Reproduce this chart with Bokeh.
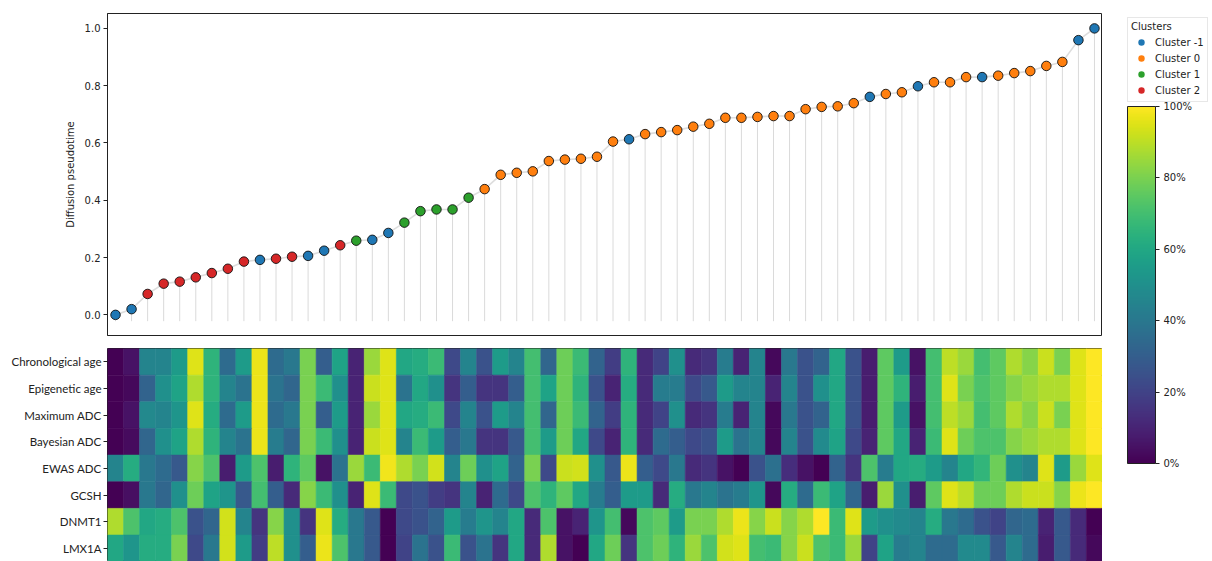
from bokeh.plotting import figure
from bokeh.models import (ColumnDataSource, Range1d, FixedTicker, Legend, LegendItem,
                          ColorBar, LinearColorMapper, NumeralTickFormatter, PrintfTickFormatter,
                          CategoricalColorMapper)
from bokeh.layouts import row, column
from bokeh.palettes import Viridis256
from bokeh.embed import file_html
from bokeh.resources import INLINE

# ---------------- data ----------------
pseudotime = [0.000, 0.020, 0.073, 0.109, 0.116, 0.131, 0.146, 0.161, 0.186, 0.192,
              0.196, 0.203, 0.206, 0.224, 0.243, 0.259, 0.262, 0.286, 0.322, 0.362,
              0.368, 0.368, 0.409, 0.439, 0.489, 0.496, 0.501, 0.537, 0.542, 0.545,
              0.552, 0.605, 0.613, 0.631, 0.638, 0.645, 0.657, 0.667, 0.688, 0.688,
              0.691, 0.694, 0.694, 0.718, 0.726, 0.728, 0.739, 0.761, 0.771, 0.777,
              0.798, 0.812, 0.812, 0.830, 0.830, 0.835, 0.844, 0.851, 0.869, 0.883,
              0.959, 1.000]

clusters = [-1, -1, 2, 2, 2, 2, 2, 2, 2, -1, 2, 2, -1, -1, 2, 1, -1, -1, 1, 1, 1, 1, 1,
            0, 0, 0, 0, 0, 0, 0, 0, 0, -1, 0, 0, 0, 0, 0, 0, 0, 0, 0, 0, 0, 0, 0, 0,
            -1, 0, 0, -1, 0, 0, 0, -1, 0, 0, 0, 0, 0, -1, -1]

cluster_ids = [-1, 0, 1, 2]
cluster_names = ["Cluster -1", "Cluster 0", "Cluster 1", "Cluster 2"]
cluster_colors = ["#1f77b4", "#ff7f0e", "#2ca02c", "#d62728"]

row_labels = ["Chronological age", "Epigenetic age", "Maximum ADC", "Bayesian ADC",
              "EWAS ADC", "GCSH", "DNMT1", "LMX1A"]

chronological_age = [0.00, 0.05, 0.45, 0.45, 0.55, 0.95, 0.65, 0.35, 0.55, 0.97,
                     0.35, 0.40, 0.80, 0.30, 0.58, 0.10, 0.85, 0.95, 0.60, 0.62,
                     0.68, 0.22, 0.45, 0.25, 0.55, 0.45, 0.70, 0.33, 0.78, 0.68,
                     0.32, 0.18, 0.65, 0.12, 0.20, 0.50, 0.12, 0.15, 0.42, 0.10,
                     0.45, 0.02, 0.40, 0.25, 0.32, 0.60, 0.25, 0.08, 0.75, 0.55,
                     0.05, 0.70, 0.90, 0.85, 0.70, 0.75, 0.88, 0.82, 0.92, 0.80,
                     0.95, 1.00]
epigenetic_age = [0.00, 0.02, 0.32, 0.50, 0.58, 0.88, 0.65, 0.45, 0.38, 0.97,
                  0.38, 0.33, 0.80, 0.68, 0.50, 0.10, 0.92, 0.95, 0.38, 0.60,
                  0.50, 0.15, 0.30, 0.15, 0.15, 0.30, 0.70, 0.58, 0.78, 0.65,
                  0.25, 0.10, 0.62, 0.12, 0.42, 0.42, 0.22, 0.28, 0.55, 0.45,
                  0.45, 0.10, 0.45, 0.25, 0.50, 0.60, 0.25, 0.08, 0.75, 0.65,
                  0.08, 0.70, 0.95, 0.80, 0.72, 0.75, 0.82, 0.85, 0.88, 0.88,
                  0.95, 1.00]
maximum_adc = [0.00, 0.05, 0.47, 0.45, 0.52, 0.95, 0.62, 0.35, 0.55, 0.97,
               0.35, 0.40, 0.80, 0.30, 0.55, 0.10, 0.85, 0.95, 0.60, 0.62,
               0.68, 0.22, 0.45, 0.25, 0.55, 0.45, 0.70, 0.33, 0.78, 0.68,
               0.32, 0.18, 0.65, 0.12, 0.20, 0.50, 0.12, 0.15, 0.42, 0.10,
               0.45, 0.02, 0.40, 0.25, 0.32, 0.60, 0.25, 0.08, 0.75, 0.55,
               0.05, 0.70, 0.90, 0.85, 0.70, 0.75, 0.88, 0.82, 0.92, 0.80,
               0.95, 1.00]
bayesian_adc = [0.00, 0.03, 0.33, 0.50, 0.58, 0.88, 0.65, 0.45, 0.38, 0.97,
                0.42, 0.33, 0.80, 0.68, 0.50, 0.10, 0.92, 0.95, 0.45, 0.68,
                0.55, 0.30, 0.40, 0.15, 0.15, 0.28, 0.70, 0.55, 0.78, 0.60,
                0.22, 0.10, 0.65, 0.12, 0.35, 0.30, 0.22, 0.25, 0.55, 0.38,
                0.45, 0.02, 0.45, 0.25, 0.48, 0.58, 0.22, 0.10, 0.75, 0.60,
                0.10, 0.68, 0.95, 0.78, 0.72, 0.72, 0.82, 0.85, 0.88, 0.88,
                0.95, 1.00]
ewas_adc = [0.45, 0.62, 0.40, 0.35, 0.28, 0.82, 0.72, 0.08, 0.55, 0.72,
            0.08, 0.65, 0.75, 0.05, 0.38, 0.85, 0.68, 0.98, 0.88, 0.80,
            0.93, 0.45, 0.78, 0.50, 0.58, 0.32, 0.80, 0.22, 0.92, 0.93,
            0.50, 0.28, 0.97, 0.30, 0.22, 0.40, 0.12, 0.15, 0.05, 0.00,
            0.25, 0.37, 0.13, 0.05, 0.00, 0.32, 0.15, 0.72, 0.42, 0.60,
            0.62, 0.55, 0.45, 0.60, 0.66, 0.78, 0.50, 0.45, 0.95, 0.55,
            0.85, 0.95]
gcsh = [0.00, 0.04, 0.40, 0.33, 0.50, 0.78, 0.58, 0.52, 0.28, 0.70,
        0.30, 0.12, 0.82, 0.68, 0.50, 0.10, 0.95, 0.68, 0.22, 0.25,
        0.18, 0.15, 0.45, 0.10, 0.35, 0.22, 0.72, 0.65, 0.75, 0.60,
        0.42, 0.30, 0.55, 0.55, 0.12, 0.62, 0.40, 0.45, 0.38, 0.42,
        0.52, 0.02, 0.62, 0.35, 0.68, 0.58, 0.33, 0.08, 0.85, 0.50,
        0.08, 0.75, 0.95, 0.90, 0.78, 0.78, 0.88, 0.92, 0.92, 0.82,
        0.97, 1.00]
dnmt1 = [0.88, 0.72, 0.60, 0.62, 0.72, 0.25, 0.33, 0.93, 0.45, 0.15,
         0.82, 0.50, 0.15, 0.95, 0.62, 0.40, 0.28, 0.00, 0.22, 0.25,
         0.32, 0.55, 0.42, 0.52, 0.45, 0.60, 0.12, 0.72, 0.05, 0.10,
         0.52, 0.70, 0.02, 0.72, 0.75, 0.55, 0.80, 0.80, 0.88, 0.97,
         0.82, 0.92, 0.82, 0.88, 1.00, 0.68, 0.95, 0.55, 0.50, 0.48,
         0.45, 0.62, 0.40, 0.35, 0.25, 0.20, 0.33, 0.35, 0.10, 0.28,
         0.12, 0.00]
lmx1a = [0.60, 0.52, 0.62, 0.62, 0.80, 0.22, 0.40, 0.93, 0.55, 0.18,
         0.90, 0.50, 0.30, 0.97, 0.72, 0.40, 0.28, 0.00, 0.20, 0.38,
         0.25, 0.68, 0.25, 0.38, 0.15, 0.60, 0.12, 0.88, 0.05, 0.00,
         0.60, 0.78, 0.15, 0.72, 0.78, 0.65, 0.85, 0.72, 0.93, 0.95,
         0.70, 0.68, 0.82, 0.92, 0.72, 0.68, 0.85, 0.20, 0.58, 0.42,
         0.45, 0.35, 0.35, 0.48, 0.48, 0.28, 0.45, 0.35, 0.08, 0.28,
         0.12, 0.02]

heat_rows = [chronological_age, epigenetic_age, maximum_adc, bayesian_adc,
             ewas_adc, gcsh, dnmt1, lmx1a]

colorbar_ticks = [0.0, 0.2, 0.4, 0.6, 0.8, 1.0]
pseudo_ticks = [0.0, 0.2, 0.4, 0.6, 0.8, 1.0]

# ---------------- layout constants ----------------
FRAME_W = 995
LEFT = 107
FONT = "DejaVu Sans"
INK = "#222222"
n = len(pseudotime)
idx = list(range(n))
xr = Range1d(-0.5, n - 0.5)

# ---------------- top: pseudotime scatter ----------------
sc = figure(frame_width=FRAME_W, frame_height=322, x_range=xr,
            y_range=Range1d(-0.072, 1.052), toolbar_location=None,
            output_backend="svg", x_axis_location=None,
            min_border_left=LEFT, min_border_right=0, min_border_top=13, min_border_bottom=6)
sc.grid.visible = False
sc.outline_line_color = INK
sc.outline_line_width = 1

labels = [cluster_names[cluster_ids.index(c)] for c in clusters]
src = ColumnDataSource(dict(x=idx, y=pseudotime, base=[-0.022] * n, cl=labels))
cmap = CategoricalColorMapper(factors=cluster_names, palette=cluster_colors)

sc.segment(x0="x", y0="base", x1="x", y1="y", source=src, line_color="#dadada", line_width=1)
sc.line("x", "y", source=src, line_color="#d4d4d4", line_width=1.6, line_alpha=0.8)
sc.scatter("x", "y", source=src, size=9.5, fill_color={"field": "cl", "transform": cmap},
           line_color="#111111", line_width=0.9)

ya = sc.yaxis[0]
ya.ticker = FixedTicker(ticks=pseudo_ticks)
ya.formatter = PrintfTickFormatter(format="%.1f")
ya.minor_tick_line_color = None
ya.major_tick_in = 0
ya.major_tick_out = 4
ya.major_label_standoff = 3
ya.axis_line_color = INK
ya.major_tick_line_color = INK
ya.major_label_text_font = FONT
ya.major_label_text_font_size = "10px"
ya.major_label_text_color = INK
ya.axis_label = "Diffusion pseudotime"
ya.axis_label_text_font = FONT
ya.axis_label_text_font_size = "10px"
ya.axis_label_text_font_style = "normal"
ya.axis_label_text_color = INK
ya.axis_label_standoff = 6

# ---------------- bottom: heatmap ----------------
ROW_PX = 26.65
HEAT_H = 213
nrows = len(row_labels)
mapper = LinearColorMapper(palette=Viridis256, low=0, high=1)

hx, hy, hv = [], [], []
for r, vals in enumerate(heat_rows):
    for c, v in enumerate(vals):
        hx.append(c)
        hy.append(nrows - 0.5 - r)
        hv.append(v)
hsrc = ColumnDataSource(dict(x=hx, y=hy, v=hv))

heat = figure(frame_width=FRAME_W, frame_height=HEAT_H, x_range=xr,
              y_range=Range1d(nrows - HEAT_H / ROW_PX, nrows), toolbar_location=None,
              output_backend="svg", x_axis_location=None,
              min_border_left=LEFT, min_border_right=0, min_border_top=7, min_border_bottom=0)
heat.grid.visible = False
heat.outline_line_color = INK
heat.rect("x", "y", width=1, height=1, source=hsrc,
          fill_color={"field": "v", "transform": mapper},
          line_color={"field": "v", "transform": mapper}, line_width=0.6)

ha = heat.yaxis[0]
centers = [nrows - 0.5 - r for r in range(nrows)]
ha.ticker = FixedTicker(ticks=centers)
ha.major_label_overrides = {c: lab for c, lab in zip(centers, row_labels)}
ha.minor_tick_line_color = None
ha.major_tick_in = 0
ha.major_tick_out = 4
ha.major_label_standoff = 2
ha.axis_line_color = None
ha.major_tick_line_color = INK
ha.major_label_text_font = "Lato"
ha.major_label_text_font_size = "11.5px"
ha.major_label_text_color = INK

# ---------------- right: legend + colorbar ----------------
SIDE_W = 1212 - LEFT - FRAME_W
SIDE_H = 561
side = figure(width=SIDE_W, height=SIDE_H, x_range=Range1d(0, 1), y_range=Range1d(0, 1),
              toolbar_location=None, output_backend="svg",
              x_axis_location=None, y_axis_location=None,
              min_border=0, min_border_left=16, min_border_top=8)
side.grid.visible = False
side.outline_line_color = None

items = []
for name, col in zip(cluster_names, cluster_colors):
    r = side.scatter(x=[-10], y=[-10], size=8, fill_color=col, line_color=None)
    items.append(LegendItem(label=name, renderers=[r]))
legend = Legend(items=items, location="top_left", margin=9, title="Clusters",
                title_text_font=FONT, title_text_font_size="10px", title_text_font_style="normal",
                title_text_color=INK, title_standoff=2,
                label_text_font=FONT, label_text_font_size="10px", label_text_color=INK,
                glyph_width=20, glyph_height=16, label_height=16, spacing=0,
                label_standoff=4, padding=3, border_line_color="#d0d0d0", border_line_width=1,
                background_fill_color="white")
side.add_layout(legend, "center")

cbar = ColorBar(color_mapper=mapper, ticker=FixedTicker(ticks=colorbar_ticks),
                formatter=NumeralTickFormatter(format="0%"),
                width=28, height=357, location=(9, 98), padding=0, margin=0,
                bar_line_color=INK, bar_line_width=1,
                major_tick_in=0, major_tick_out=4, major_tick_line_color=INK,
                minor_tick_line_color=None, label_standoff=4,
                major_label_text_font=FONT, major_label_text_font_size="10px",
                major_label_text_color=INK,
                background_fill_color=None, border_line_color=None)
side.add_layout(cbar, "center")

layout = row(column(sc, heat), side)
open("out.html", "w").write(file_html(layout, INLINE, "Diffusion pseudotime"))
